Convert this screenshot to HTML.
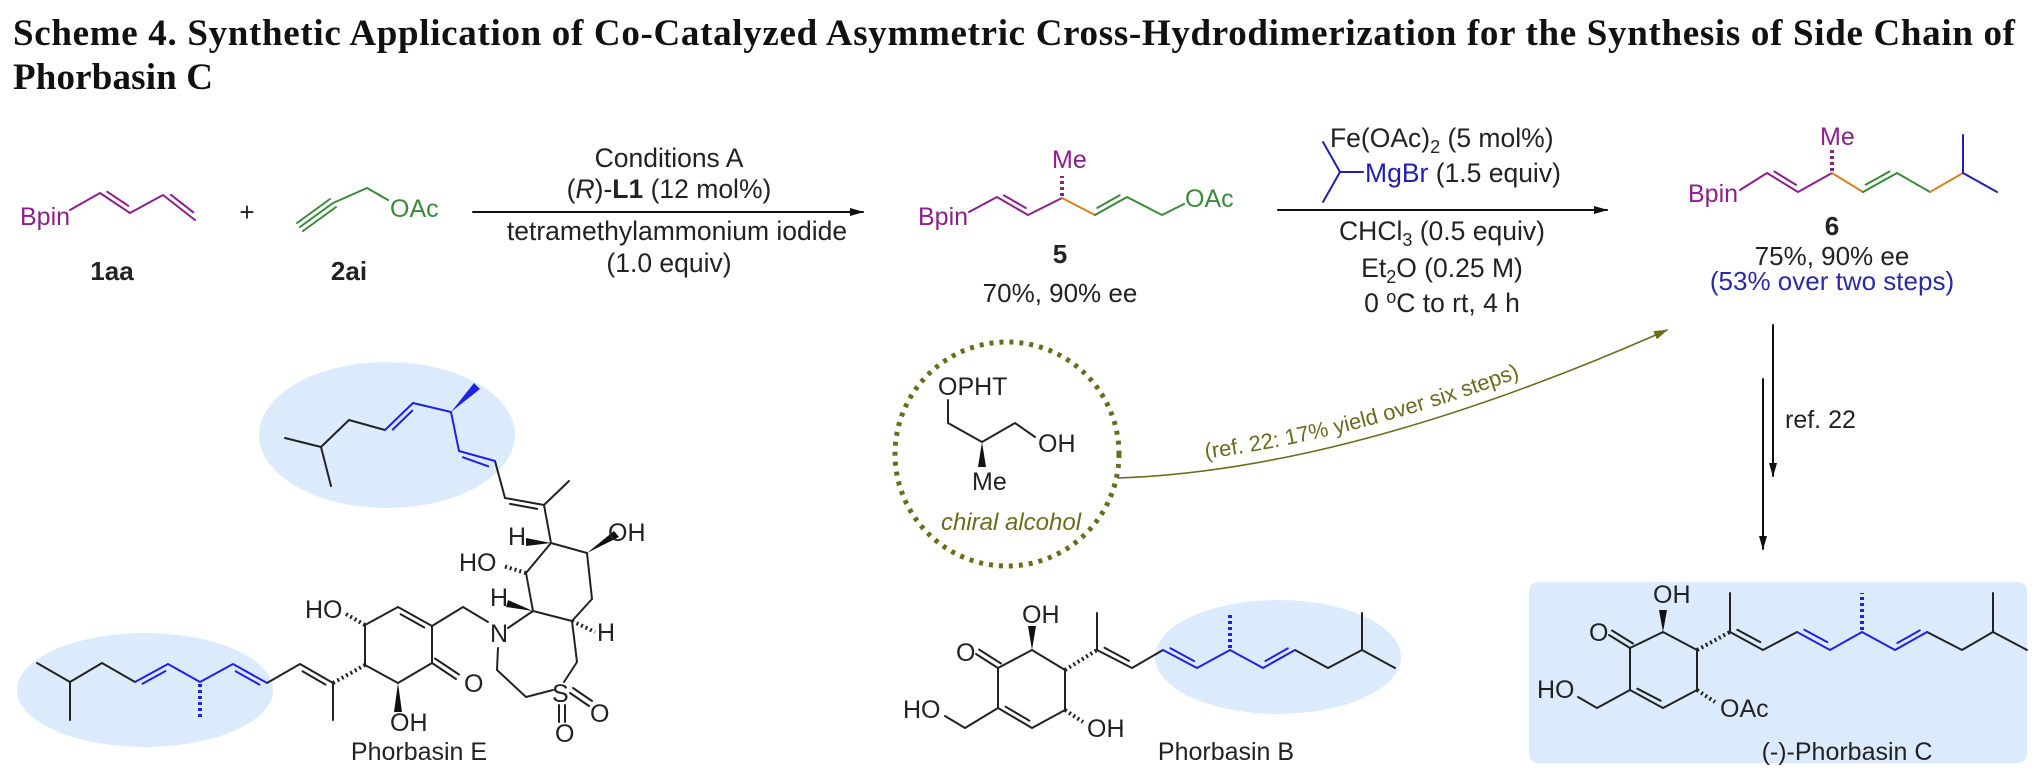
<!DOCTYPE html>
<html><head><meta charset="utf-8"><style>
html,body{margin:0;padding:0;background:#fff;}
svg{display:block;}
text{font-family:"Liberation Sans",Arial,sans-serif;}
</style></head><body>
<svg width="2039" height="784" viewBox="0 0 2039 784" xmlns="http://www.w3.org/2000/svg">
<defs>
<marker id="ah" markerWidth="14" markerHeight="8" refX="13" refY="4" orient="auto" markerUnits="userSpaceOnUse"><path d="M0,0 L14,4 L0,8 z" fill="#111"/></marker>
<marker id="ao" markerWidth="14" markerHeight="9" refX="13" refY="4.5" orient="auto" markerUnits="userSpaceOnUse"><path d="M0,0 L14,4.5 L0,9 z" fill="#6b6b1e"/></marker>
<path id="cp" d="M1118,466 Q1350,458 1667,318"/>
</defs>

<g font-weight="bold" fill="#111" font-size="37">
<text x="13" y="45" textLength="2002" lengthAdjust="spacing" style="font-family:'Liberation Serif',serif">Scheme 4. Synthetic Application of Co-Catalyzed Asymmetric Cross-Hydrodimerization for the Synthesis of Side Chain of</text>
<text x="13" y="89" textLength="200" lengthAdjust="spacing" style="font-family:'Liberation Serif',serif">Phorbasin C</text>
</g>

<g fill="#dcebfc">
<ellipse cx="387" cy="435" rx="128" ry="73"/>
<ellipse cx="145" cy="690" rx="128" ry="57"/>
<ellipse cx="1278" cy="657" rx="123" ry="57"/>
<rect x="1529" y="582" width="498" height="181" rx="9"/>
</g>

<g stroke-linecap="round" stroke-linejoin="round" fill="none" stroke-width="2">
<g stroke="#8b1f8b">
<polyline points="70,210 100,193 130,213 163,195 195,220"/>
<line x1="107.3" y1="191.8" x2="128.3" y2="205.8"/>
<line x1="170.9" y1="194.8" x2="193.3" y2="212.3"/>
</g>
<g stroke="#3a8a3a">
<polyline points="300,227 333,203 367,188 388,200"/>
<line x1="303" y1="231" x2="336" y2="207"/>
<line x1="297" y1="223" x2="330" y2="199"/>
</g>
<g stroke="#8b1f8b">
<polyline points="969,212 997,197 1028,215 1062,198"/>
<line x1="1004" y1="195.4" x2="1025.8" y2="208"/>
<line x1="1062" y1="196" x2="1062" y2="176" stroke-width="4" stroke-dasharray="3 3" stroke-linecap="butt"/>
</g>
<polyline points="1062,198 1095,215" stroke="#d98020"/>
<g stroke="#3a8a3a">
<polyline points="1095,215 1127,197 1162,215 1184,204"/>
<line x1="1097.3" y1="207.9" x2="1119.7" y2="195.3"/>
</g>
<g stroke="#1f1fb0">
<polyline points="1323,142 1340,172 1323,202"/>
<line x1="1340" y1="172" x2="1363" y2="172"/>
</g>
<g stroke="#8b1f8b">
<polyline points="1740,190 1767,173 1798,192 1832,173"/>
<line x1="1774.3" y1="171.5" x2="1796" y2="184.9"/>
<line x1="1832" y1="171" x2="1832" y2="150" stroke-width="4" stroke-dasharray="3 3" stroke-linecap="butt"/>
</g>
<polyline points="1832,173 1863,192" stroke="#d98020"/>
<g stroke="#3a8a3a">
<polyline points="1863,192 1897,173 1930,192"/>
<line x1="1865.6" y1="184.8" x2="1889.5" y2="171.5"/>
</g>
<polyline points="1930,192 1963,173" stroke="#d98020"/>
<g stroke="#1f1fb0"><polyline points="1963,135 1963,173 1997,192"/></g>

<line x1="473" y1="212" x2="863" y2="212" stroke="#111" marker-end="url(#ah)"/>
<line x1="1278" y1="210" x2="1607" y2="210" stroke="#111" marker-end="url(#ah)"/>
<line x1="1773" y1="325" x2="1773" y2="476" stroke="#111" marker-end="url(#ah)"/>
<line x1="1763" y1="379" x2="1763" y2="549" stroke="#111" marker-end="url(#ah)"/>
<path d="M1118,478 Q1350,470 1667,330" stroke="#6b6b1e" stroke-width="1.6" marker-end="url(#ao)"/>

<circle cx="1007" cy="454" r="112" stroke="#6b6b1e" stroke-width="5" stroke-dasharray="4 6" stroke-linecap="butt"/>
<g stroke="#222">
<polyline points="948,400 948,423 982,442 1015,423 1035,437"/>
</g>
<polygon points="982,442 978,467 986,467" fill="#111" stroke="none"/>

<g stroke="#222">
<polyline points="37,663 70,682 102,663 135,682"/>
<line x1="70" y1="682" x2="70" y2="720"/>
<polyline points="267,683 300,664 333,683 333,720"/>
<line x1="302.5" y1="671.3" x2="325.5" y2="684.6"/>
<line x1="333" y1="683" x2="365" y2="665" stroke-width="4" stroke-dasharray="2 3" stroke-linecap="butt"/>
<polyline points="365,665 365,625 398,607 432,626 432,663 398,683 365,665"/>
<line x1="400.6" y1="614.2" x2="424.4" y2="627.5"/>
<line x1="432" y1="663" x2="456" y2="679"/>
<line x1="435" y1="658.5" x2="459" y2="674.5"/>
<line x1="365" y1="625" x2="346" y2="614" stroke-width="4" stroke-dasharray="2 3" stroke-linecap="butt"/>
<polyline points="432,626 463,607 488,622"/>
<polyline points="285,438 321,447 349,420 385,430"/>
<line x1="321" y1="447" x2="331" y2="486"/>
<polyline points="495,461 505,498 544,505 569,481"/>
<line x1="510" y1="503.9" x2="537.2" y2="508.9"/>
<polyline points="544,505 551,543 587,553 592,599 572,621 533,611 526,573 551,543"/>
<line x1="526" y1="573" x2="503" y2="566" stroke-width="4" stroke-dasharray="2 3" stroke-linecap="butt"/>
<line x1="572" y1="621" x2="595" y2="632" stroke-width="4" stroke-dasharray="2 3" stroke-linecap="butt"/>
<polyline points="508,628 533,611"/>
<polyline points="498,648 497,670 526,697 553,690"/>
<polyline points="564,682 577,662 572,621"/>
<line x1="570" y1="693" x2="589" y2="706"/><line x1="573" y1="688" x2="592" y2="701"/>
<line x1="559" y1="705" x2="559" y2="722"/><line x1="565" y1="705" x2="565" y2="722"/>
</g>
<polygon points="398,683 394,712 402,712" fill="#111" stroke="none"/>
<polygon points="551,543 526,538 526,546" fill="#111" stroke="none"/>
<polygon points="587,553 614,531 619,537" fill="#111" stroke="none"/>
<polygon points="533,611 508,600 506,607" fill="#111" stroke="none"/>
<g stroke="#2020e6">
<polyline points="135,682 168,664 200,682 233,664 267,683"/>
<line x1="142.4" y1="683.7" x2="165.4" y2="671.1"/>
<line x1="235.6" y1="671.3" x2="259.4" y2="684.6"/>
<line x1="200" y1="684" x2="200" y2="720" stroke-width="4" stroke-dasharray="3 3" stroke-linecap="butt"/>
<polyline points="385,430 413,403 451,412 459,451 495,461"/>
<line x1="392.7" y1="429.6" x2="412.3" y2="410.6"/>
<line x1="463" y1="457.3" x2="488.3" y2="466.3"/>
</g>
<polygon points="451,412 474,383 480,389" fill="#2020e6" stroke="none"/>

<g stroke="#222">
<polyline points="998,668 1032,650 1065,670 1065,710 1032,728 998,708 998,668"/>
<line x1="1005.6" y1="706.7" x2="1029.4" y2="720.7"/>
<line x1="998" y1="668" x2="976" y2="654"/><line x1="1001" y1="663.5" x2="979" y2="649.5"/>
<polyline points="998,708 965,728 945,716"/>
<line x1="1065" y1="710" x2="1083" y2="722" stroke-width="4" stroke-dasharray="2 3" stroke-linecap="butt"/>
<line x1="1065" y1="670" x2="1097" y2="650" stroke-width="4" stroke-dasharray="2 3" stroke-linecap="butt"/>
<polyline points="1097,613 1097,650 1132,668 1163,650"/>
<line x1="1104.5" y1="647.8" x2="1129" y2="660.9"/>
<polyline points="1295,650 1328,668 1362,650 1362,613"/>
<line x1="1362" y1="650" x2="1395" y2="668"/>
</g>
<polygon points="1032,650 1028,626 1036,626" fill="#111" stroke="none"/>
<g stroke="#2020e6">
<polyline points="1163,650 1197,668 1230,650 1263,668 1295,650"/>
<line x1="1170.4" y1="648.2" x2="1194.2" y2="661.1"/>
<line x1="1265.4" y1="661" x2="1287.8" y2="648.4"/>
<line x1="1230" y1="648" x2="1230" y2="613" stroke-width="4" stroke-dasharray="3 3" stroke-linecap="butt"/>
</g>

<g stroke="#222">
<polyline points="1630,648 1663,632 1697,650 1697,690 1663,708 1630,690 1630,648"/>
<line x1="1637.4" y1="688.7" x2="1660.6" y2="700.7"/>
<line x1="1630" y1="648" x2="1609" y2="635"/><line x1="1633" y1="643.5" x2="1612" y2="630.5"/>
<polyline points="1630,690 1597,708 1578,697"/>
<line x1="1697" y1="690" x2="1715" y2="702" stroke-width="4" stroke-dasharray="2 3" stroke-linecap="butt"/>
<line x1="1697" y1="650" x2="1730" y2="632" stroke-width="4" stroke-dasharray="2 3" stroke-linecap="butt"/>
<polyline points="1730,593 1730,632 1763,650 1797,632"/>
<line x1="1737.3" y1="629.8" x2="1760.3" y2="642.1"/>
<polyline points="1927,632 1962,650 1993,632 1993,593"/>
<line x1="1993" y1="632" x2="2027" y2="650"/>
</g>
<polygon points="1663,632 1659,610 1667,610" fill="#111" stroke="none"/>
<g stroke="#2020e6">
<polyline points="1797,632 1830,650 1862,632 1895,650 1927,632"/>
<line x1="1804.3" y1="629.8" x2="1827.3" y2="642.1"/>
<line x1="1897.4" y1="643" x2="1919.8" y2="630.4"/>
<line x1="1862" y1="630" x2="1862" y2="593" stroke-width="4" stroke-dasharray="3 3" stroke-linecap="butt"/>
</g>
</g>

<g font-size="25" fill="#222">
<text x="20" y="225" fill="#8b1f8b">Bpin</text>
<text x="247" y="221" text-anchor="middle" font-size="26">+</text>
<text x="390" y="217" fill="#3a8a3a">OAc</text>
<text x="112" y="280" text-anchor="middle" font-weight="bold" font-size="26">1aa</text>
<text x="349" y="280" text-anchor="middle" font-weight="bold" font-size="26">2ai</text>

<g font-size="26.5" text-anchor="middle">
<text x="669" y="167">Conditions A</text>
<text x="669" y="198">(<tspan font-style="italic">R</tspan>)-<tspan font-weight="bold">L1</tspan> (12 mol%)</text>
<text x="677" y="240">tetramethylammonium iodide</text>
<text x="669" y="272">(1.0 equiv)</text>
</g>

<text x="918" y="225" fill="#8b1f8b">Bpin</text>
<text x="1052" y="168" fill="#8b1f8b">Me</text>
<text x="1185" y="207" fill="#3a8a3a">OAc</text>
<text x="1060" y="263" text-anchor="middle" font-weight="bold" font-size="26">5</text>
<text x="1060" y="302" text-anchor="middle" font-size="26">70%, 90% ee</text>

<g font-size="26.5">
<text x="1330" y="147">Fe(OAc)<tspan font-size="18" dy="6">2</tspan><tspan dy="-6"> (5 mol%)</tspan></text>
<text x="1365" y="182"><tspan fill="#1f1fb0">MgBr</tspan> (1.5 equiv)</text>
<text x="1442" y="240" text-anchor="middle">CHCl<tspan font-size="18" dy="6">3</tspan><tspan dy="-6"> (0.5 equiv)</tspan></text>
<text x="1442" y="277" text-anchor="middle">Et<tspan font-size="18" dy="6">2</tspan><tspan dy="-6">O (0.25 M)</tspan></text>
<text x="1442" y="312" text-anchor="middle">0 <tspan font-size="18" dy="-9">o</tspan><tspan dy="9">C to rt, 4 h</tspan></text>
</g>

<text x="1688" y="202" fill="#8b1f8b">Bpin</text>
<text x="1820" y="145" fill="#8b1f8b">Me</text>
<text x="1832" y="235" text-anchor="middle" font-weight="bold" font-size="26">6</text>
<text x="1832" y="265" text-anchor="middle" font-size="26">75%, 90% ee</text>
<text x="1832" y="290" text-anchor="middle" font-size="26" fill="#2a2aa8">(53% over two steps)</text>

<text x="1785" y="428">ref. 22</text>

<text x="938" y="395">OPHT</text>
<text x="1038" y="452">OH</text>
<text x="972" y="490">Me</text>
<text x="1011" y="530" text-anchor="middle" font-style="italic" fill="#6b6b1e" font-size="24">chiral alcohol</text>
<text font-size="22" fill="#6b6b1e"><textPath href="#cp" startOffset="88">(ref. 22: 17% yield over six steps)</textPath></text>

<text x="305" y="618">HO</text>
<text x="390" y="731">OH</text>
<text x="464" y="692">O</text>
<text x="490" y="642">N</text>
<text x="508" y="545">H</text>
<text x="608" y="541">OH</text>
<text x="459" y="571">HO</text>
<text x="490" y="606">H</text>
<text x="597" y="641">H</text>
<text x="552" y="702">S</text>
<text x="590" y="722">O</text>
<text x="555" y="742">O</text>
<text x="419" y="760" text-anchor="middle">Phorbasin E</text>

<text x="1022" y="623">OH</text>
<text x="956" y="661">O</text>
<text x="903" y="718">HO</text>
<text x="1087" y="737">OH</text>
<text x="1226" y="760" text-anchor="middle">Phorbasin B</text>

<text x="1653" y="603">OH</text>
<text x="1589" y="641">O</text>
<text x="1537" y="698">HO</text>
<text x="1720" y="717">OAc</text>
<text x="1847" y="760" text-anchor="middle">(-)-Phorbasin C</text>
</g>
</svg>
</body></html>
